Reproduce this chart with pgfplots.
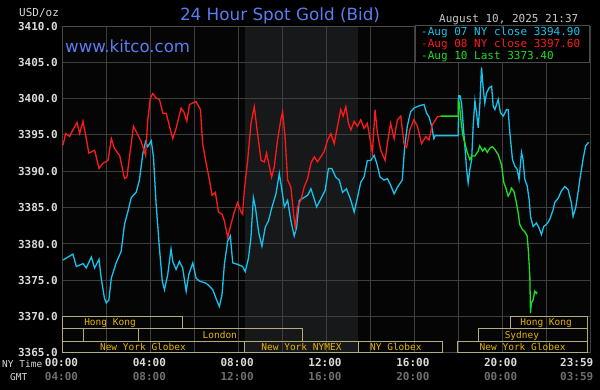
\documentclass[border=0pt]{standalone}
\usepackage{fontspec}
\setmainfont{DejaVu Sans}
\newfontfamily\mono{DejaVu Sans Mono}
\usepackage{pgfplots}
\pgfplotsset{compat=1.18}
\definecolor{plotbg}{HTML}{050506}
\definecolor{gridc}{HTML}{3E3E3E}
\definecolor{framec}{HTML}{4A4A4A}
\definecolor{nymexc}{HTML}{16181A}
\definecolor{cyanl}{HTML}{12C4EE}
\definecolor{redl}{HTML}{FF1A1A}
\definecolor{greenl}{HTML}{1EE01E}
\definecolor{titleblue}{HTML}{5A7DF0}
\definecolor{sessbox}{HTML}{B4AC7C}
\definecolor{sesstext}{HTML}{E8B400}
\definecolor{lbl}{HTML}{DADADA}
\definecolor{gmtc}{HTML}{6E6E6E}
\definecolor{datec}{HTML}{C8C8C8}
\begin{document}
\begin{tikzpicture}
\fill[black] (-63pt,-37pt) rectangle (537pt,353pt);
\begin{axis}[
  scale only axis, width=527pt, height=327pt,
  at={(0pt,0pt)}, anchor=south west,
  xmin=0, xmax=24, ymin=3365, ymax=3410,
  axis background/.style={fill=plotbg},
  xtick={0,4,8,12,16,20},
  minor xtick={2,6,10,14,18,22},
  xticklabels={
    {\textcolor{lbl}{00:00}\\\textcolor{gmtc}{04:00}},
    {\textcolor{lbl}{04:00}\\\textcolor{gmtc}{08:00}},
    {\textcolor{lbl}{08:00}\\\textcolor{gmtc}{12:00}},
    {\textcolor{lbl}{12:00}\\\textcolor{gmtc}{16:00}},
    {\textcolor{lbl}{16:00}\\\textcolor{gmtc}{20:00}},
    {\textcolor{lbl}{20:00}\\\textcolor{gmtc}{00:00}}},
  extra x ticks={24},
  extra x tick labels={{\textcolor{lbl}{23:59}\\\textcolor{gmtc}{03:59}}},
  extra x tick style={xticklabel style={xshift=-11.7pt}},
  xticklabel style={font=\mono\bfseries\fontsize{11}{14}\selectfont, align=center, anchor=north, inner sep=0pt, yshift=-5pt, xshift=-1.5pt},
  ytick={3365,3370,3375,3380,3385,3390,3395,3400,3405,3410},
  yticklabels={3365.0,3370.0,3375.0,3380.0,3385.0,3390.0,3395.0,3400.0,3405.0,3410.0},
  major tick length=0pt, minor tick length=0pt,
  grid=both,
  major grid style={draw=gridc, line width=1pt},
  minor grid style={draw=gridc, line width=1pt},
  axis line style={draw=framec, line width=1pt},
  yticklabel style={font=\mono\bfseries\fontsize{11}{11}\selectfont, text=lbl, anchor=east, inner sep=0pt, xshift=-5pt},
  clip=false,
]
% NYMEX shaded period
\fill[nymexc] (axis cs:8.27,3365) rectangle (axis cs:13.45,3410);
\draw[gridc, line width=1pt] (axis cs:10,3365) -- (axis cs:10,3410);
\draw[gridc, line width=1pt] (axis cs:12,3365) -- (axis cs:12,3410);
\pgfplotsinvokeforeach{3370,3375,3380,3385,3390,3395,3400,3405}{
  \draw[gridc, line width=1pt] (axis cs:8.27,#1) -- (axis cs:13.45,#1);
}
\draw[framec, line width=1pt] (axis cs:8.27,3365) -- (axis cs:13.45,3365);
\draw[framec, line width=1pt] (axis cs:8.27,3410) -- (axis cs:13.45,3410);
% session boxes
\begin{scope}[sessbox, line width=1pt]
\draw (axis cs:0,3368.35) rectangle (axis cs:5.45,3370);
\draw (axis cs:20.4,3368.35) rectangle (axis cs:23.9,3370);
\draw (axis cs:0,3366.65) rectangle (axis cs:0.95,3368.35);
\draw (axis cs:3.45,3366.65) rectangle (axis cs:10.9,3368.35);
\draw (axis cs:18.9,3366.65) rectangle (axis cs:23.9,3368.35);
\draw (axis cs:0,3365) rectangle (axis cs:8.25,3366.65);
\draw (axis cs:8.27,3365) rectangle (axis cs:13.45,3366.65);
\draw (axis cs:13.45,3365) rectangle (axis cs:17.3,3366.65);
\draw (axis cs:17.95,3365) rectangle (axis cs:23.9,3366.65);
\end{scope}
\begin{scope}[every node/.style={font=\mono\fontsize{9.5}{9.5}\selectfont, text=sesstext, anchor=base, inner sep=0pt}]
\node at (axis cs:2.14,3368.76) {Hong Kong};
\node at (axis cs:22.0,3368.76) {Hong Kong};
\node at (axis cs:7.14,3367.06) {London};
\node at (axis cs:20.9,3367.06) {Sydney};
\node at (axis cs:3.64,3365.32) {New York Globex};
\node at (axis cs:10.86,3365.32) {New York NYMEX};
\node at (axis cs:15.16,3365.32) {NY Globex};
\node at (axis cs:20.93,3365.32) {New York Globex};
\end{scope}
% Aug 07 series
\addplot[cyanl, line width=1.3pt] coordinates {
(0.00,3377.8)(0.45,3378.6)(0.61,3376.9)(0.91,3377.3)(1.06,3376.7)(1.29,3378.2)(1.44,3376.7)(1.64,3377.9)(1.74,3375.3)(1.89,3372.5)(1.97,3371.9)(2.09,3372.3)(2.20,3375.3)(2.42,3377.4)(2.65,3379.0)(2.80,3382.7)(2.95,3384.4)(3.11,3386.4)(3.33,3387.1)(3.48,3388.8)(3.64,3392.5)(3.76,3394.1)(3.86,3393.4)(4.02,3394.2)(4.12,3392.0)(4.24,3385.5)(4.39,3379.5)(4.52,3374.9)(4.62,3373.7)(4.77,3375.8)(4.92,3379.3)(5.00,3377.6)(5.15,3376.5)(5.30,3377.6)(5.45,3376.7)(5.61,3373.5)(5.73,3375.8)(5.91,3377.4)(6.06,3375.3)(6.21,3374.9)(6.52,3374.6)(6.67,3374.2)(6.82,3373.7)(6.97,3372.5)(7.12,3371.4)(7.24,3373.0)(7.35,3377.2)(7.50,3380.4)(7.62,3381.1)(7.73,3377.4)(7.95,3377.2)(8.18,3376.9)(8.30,3376.2)(8.45,3378.1)(8.56,3380.9)(8.67,3386.4)(8.76,3385.1)(8.91,3381.6)(9.06,3379.7)(9.21,3382.3)(9.36,3383.2)(9.52,3385.1)(9.70,3386.9)(9.85,3389.7)(9.97,3387.4)(10.08,3385.1)(10.23,3386.0)(10.38,3383.2)(10.53,3381.1)(10.64,3382.3)(10.76,3386.0)(10.98,3386.4)(11.14,3386.7)(11.29,3387.6)(11.44,3386.2)(11.55,3385.1)(11.74,3386.2)(11.94,3387.4)(12.09,3390.4)(12.24,3390.4)(12.42,3389.2)(12.58,3388.8)(12.73,3387.1)(12.91,3387.6)(13.11,3386.0)(13.26,3384.4)(13.41,3386.4)(13.56,3388.5)(13.71,3389.2)(13.86,3391.5)(14.02,3391.5)(14.17,3392.2)(14.29,3391.1)(14.44,3389.2)(14.62,3388.8)(14.77,3389.0)(14.92,3388.1)(15.08,3386.9)(15.23,3387.8)(15.45,3388.8)(15.56,3393.4)(15.68,3396.2)(15.83,3398.2)(15.98,3398.7)(16.21,3399.0)(16.44,3399.2)(16.56,3398.0)(16.67,3397.5)(16.79,3396.2)(16.89,3394.5)(16.95,3394.9)(18.00,3394.9)(18.02,3400.4)(18.08,3400.4)(18.15,3399.4)(18.23,3396.2)(18.30,3393.5)(18.38,3390.3)(18.45,3388.4)(18.53,3390.3)(18.61,3391.6)(18.68,3396.2)(18.76,3399.7)(18.83,3398.1)(18.91,3396.0)(18.98,3399.0)(19.06,3404.3)(19.14,3401.3)(19.21,3399.4)(19.29,3400.8)(19.41,3401.5)(19.52,3401.7)(19.59,3399.0)(19.67,3398.5)(19.82,3399.9)(19.92,3398.1)(20.05,3397.6)(20.20,3398.5)(20.27,3398.5)(20.35,3395.3)(20.47,3391.6)(20.58,3390.7)(20.68,3390.3)(20.77,3388.9)(20.88,3392.6)(20.95,3391.6)(21.03,3388.9)(21.14,3388.0)(21.23,3386.1)(21.29,3383.8)(21.41,3382.4)(21.56,3382.9)(21.68,3382.2)(21.79,3381.3)(21.89,3382.4)(22.02,3382.7)(22.17,3383.4)(22.32,3384.7)(22.39,3385.7)(22.55,3386.3)(22.70,3387.3)(22.85,3387.9)(23.00,3387.5)(23.15,3385.7)(23.23,3383.8)(23.35,3385.0)(23.45,3387.0)(23.56,3389.3)(23.68,3391.6)(23.80,3393.5)(23.94,3394.0)
};
% Aug 08 series
\addplot[redl, line width=1.3pt] coordinates {
(0.00,3393.6)(0.12,3395.2)(0.30,3394.8)(0.45,3395.7)(0.64,3396.7)(0.76,3395.2)(0.91,3396.9)(1.06,3394.5)(1.18,3392.5)(1.44,3392.9)(1.64,3390.4)(1.82,3391.1)(2.05,3391.5)(2.20,3394.5)(2.35,3393.1)(2.58,3392.2)(2.80,3389.0)(2.91,3389.2)(3.03,3392.0)(3.21,3396.2)(3.41,3395.0)(3.56,3394.1)(3.76,3392.2)(3.86,3397.1)(3.98,3400.1)(4.09,3400.7)(4.24,3400.1)(4.39,3399.9)(4.55,3398.0)(4.70,3398.0)(4.85,3396.2)(5.00,3394.5)(5.15,3395.9)(5.38,3398.7)(5.50,3398.2)(5.64,3396.9)(5.76,3399.2)(5.91,3399.4)(6.06,3399.6)(6.26,3398.5)(6.36,3393.8)(6.52,3391.1)(6.67,3388.8)(6.79,3386.7)(6.94,3387.1)(7.08,3384.4)(7.24,3384.1)(7.35,3383.2)(7.50,3380.9)(7.65,3382.7)(7.80,3384.4)(7.95,3385.7)(8.11,3384.4)(8.18,3384.1)(8.26,3387.4)(8.41,3391.5)(8.56,3396.6)(8.71,3398.9)(8.86,3395.2)(9.02,3391.5)(9.17,3391.3)(9.27,3392.5)(9.39,3390.8)(9.50,3389.2)(9.62,3390.6)(9.77,3394.3)(9.92,3397.1)(10.00,3398.2)(10.11,3394.8)(10.23,3388.8)(10.38,3387.8)(10.50,3384.1)(10.58,3382.3)(10.68,3385.1)(10.83,3386.0)(10.98,3387.8)(11.14,3389.0)(11.29,3391.1)(11.44,3392.0)(11.59,3391.3)(11.74,3392.0)(11.89,3392.7)(12.05,3394.3)(12.20,3395.2)(12.35,3393.8)(12.50,3396.2)(12.65,3398.5)(12.76,3397.6)(12.88,3398.9)(13.00,3396.6)(13.11,3395.7)(13.26,3396.9)(13.41,3396.2)(13.56,3397.1)(13.71,3395.9)(13.86,3396.6)(14.02,3393.8)(14.09,3392.5)(14.21,3398.5)(14.32,3395.2)(14.47,3392.9)(14.67,3391.5)(14.77,3393.8)(14.92,3396.6)(15.08,3394.5)(15.23,3397.1)(15.38,3397.6)(15.53,3393.8)(15.65,3393.3)(15.79,3395.7)(15.98,3397.1)(16.14,3396.2)(16.33,3393.8)(16.52,3394.8)(16.67,3394.3)(16.82,3396.4)(17.05,3397.5)(17.20,3397.6)
};
% Aug 10 series
\addplot[greenl, line width=1.3pt] coordinates {
(17.20,3397.6)(18.00,3397.6)(18.00,3399.7)(18.05,3399.4)(18.12,3397.1)(18.20,3395.1)(18.30,3393.9)(18.41,3392.6)(18.53,3391.6)(18.61,3392.1)(18.76,3392.1)(18.91,3392.8)(18.98,3393.5)(19.11,3392.8)(19.21,3393.2)(19.32,3392.6)(19.44,3393.2)(19.56,3393.4)(19.67,3393.0)(19.82,3392.3)(19.97,3390.9)(20.08,3388.4)(20.17,3387.7)(20.27,3386.6)(20.35,3387.0)(20.42,3387.7)(20.53,3387.3)(20.62,3386.1)(20.73,3384.3)(20.80,3382.7)(20.92,3382.0)(21.03,3381.7)(21.14,3381.1)(21.20,3378.8)(21.26,3375.5)(21.29,3370.5)(21.33,3371.9)(21.41,3372.3)(21.48,3373.5)(21.56,3373.2)(21.59,3373.4)
};
\end{axis}
% legend box
\fill[black] (352pt,290pt) rectangle (526pt,327pt);
\draw[framec, line width=1pt] (352pt,290pt) rectangle (526pt,327pt);
\begin{scope}[every node/.style={font=\mono\fontsize{11}{11}\selectfont, anchor=base west, inner sep=0pt}]
\node[text=cyanl] at (358pt,317pt) {-Aug 07 NY close 3394.90};
\node[text=redl] at (358pt,305pt) {-Aug 08 NY close 3397.60};
\node[text=greenl] at (358pt,293pt) {-Aug 10 Last 3373.40};
\node[text=datec] at (376pt,330.5pt) {August 10, 2025 21:37};
\node[text=lbl] at (-44pt,336.5pt) {USD/oz};
\end{scope}
\node[anchor=base, inner sep=0pt, text=titleblue, font=\fontsize{16.8}{16.8}\selectfont] at (217pt,332.3pt) {24 Hour Spot Gold (Bid)};
\node[anchor=base west, inner sep=0pt, text=titleblue, font=\fontsize{16.6}{16.6}\selectfont] at (2pt,300.8pt) {www.kitco.com};
\begin{scope}[every node/.style={font=\mono\fontsize{9.5}{9.5}\selectfont, text=lbl, anchor=base west, inner sep=0pt}]
\node at (-61pt,-15pt) {NY Time};
\node at (-53pt,-28pt) {GMT};
\end{scope}
\end{tikzpicture}
\end{document}
